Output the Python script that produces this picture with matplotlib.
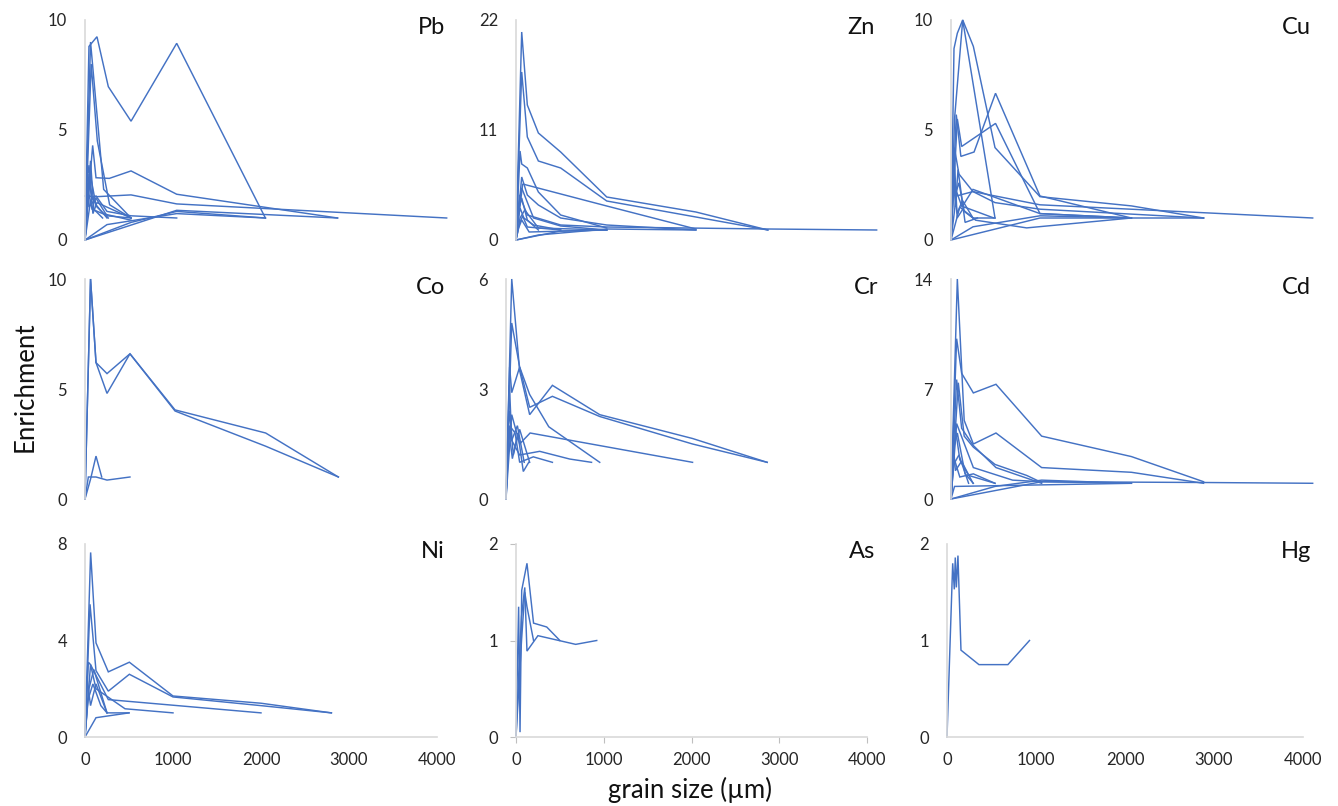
import matplotlib
matplotlib.use("Agg")
import matplotlib.pyplot as plt

plt.rcParams['font.family'] = ['Lato', 'DejaVu Sans']

# ---------------- data (grain size in µm, enrichment) ----------------
elements = ["Pb", "Zn", "Cu", "Co", "Cr", "Cd", "Ni", "As", "Hg"]
y_max = [10, 22, 10, 10, 6, 14, 8, 2, 2]
x_ticks = [0, 1000, 2000, 3000, 4000]

pb_x = [[0, 45, 136, 265, 523, 1042, 2050],
        [0, 63, 212, 523],
        [0, 70, 140, 280, 523],
        [0, 87, 125, 276, 523, 1042, 2870],
        [0, 136, 523, 1042, 4110],
        [0, 250, 1042, 2050],
        [0, 1042, 2870],
        [0, 523, 1042, 2050],
        [0, 20, 45, 76, 136, 265],
        [0, 30, 63, 125, 250],
        [0, 45, 90, 136, 523],
        [0, 63, 125, 250, 523, 1042],
        [0, 38, 80, 200, 523],
        [0, 20, 63, 100, 200],
        [0, 30, 45, 125, 250, 523]]
pb_y = [[0, 8.8, 9.24, 6.97, 5.4, 8.94, 1.0],
        [0, 9.0, 2.3, 1.0],
        [0, 8.0, 4.5, 1.6, 1.0],
        [0, 4.3, 2.83, 2.8, 3.14, 2.08, 1.0],
        [2.0, 1.97, 2.05, 1.64, 1.0],
        [0, 0.7, 1.2, 1.0],
        [0, 1.35, 1.0],
        [0, 0.8, 1.3, 1.0],
        [0, 2.5, 3.4, 2.0, 1.5, 1.0],
        [0, 1.8, 2.9, 1.6, 1.0],
        [0, 3.0, 1.2, 1.7, 1.0],
        [0, 1.8, 2.0, 1.3, 1.1, 1.0],
        [0, 2.2, 1.4, 1.2, 0.9],
        [0, 1.2, 3.6, 1.4, 1.0],
        [0, 2.6, 1.5, 1.9, 1.1, 1.0]]

zn_x = [[0, 65, 129, 255, 509, 1034, 2050, 2870],
        [0, 65, 129, 255, 509, 1034, 2050, 2870],
        [0, 46, 65, 129, 255, 509, 1034],
        [0, 76, 1034, 2050],
        [0, 65, 129, 255, 509, 1034, 2050],
        [0, 40, 129, 509, 1034, 2870, 4110],
        [0, 30, 65, 200, 509, 1034],
        [0, 20, 65, 129, 255],
        [0, 46, 100, 255, 1034],
        [0, 255, 1034, 2050],
        [0, 509, 1034],
        [0, 38, 76, 129, 509],
        [0, 20, 46, 90, 200, 509],
        [0, 30, 65, 150, 1034]]
zn_y = [[0, 20.8, 13.5, 10.7, 8.8, 4.3, 2.8, 1.0],
        [0, 16.8, 10.3, 7.9, 7.2, 3.9, 2.3, 1.0],
        [0, 8.9, 7.6, 7.2, 4.8, 2.5, 1.2],
        [0, 5.6, 3.4, 1.1],
        [0, 6.3, 4.5, 3.5, 2.2, 1.5, 1.0],
        [0, 4.5, 2.5, 1.5, 1.3, 1.1, 1.0],
        [0, 3.5, 5.2, 2.2, 1.4, 1.0],
        [0, 2.8, 4.2, 2.0, 1.0],
        [0, 2.2, 3.0, 1.2, 1.0],
        [0, 0.5, 1.1, 1.0],
        [0, 0.9, 1.0],
        [0, 1.6, 2.4, 1.3, 1.0],
        [0, 1.8, 3.2, 2.2, 1.5, 1.0],
        [0, 1.2, 2.0, 0.8, 1.0]]

cu_x = [[0, 34, 72, 133, 254, 500, 1011, 2050, 2870],
        [0, 40, 133, 500],
        [0, 60, 112, 262, 506, 1011, 2050],
        [0, 72, 121, 506, 1011, 2050],
        [0, 38, 90, 250, 500, 1011, 2870],
        [0, 20, 63, 125, 250, 1011, 2050],
        [0, 60, 250, 1011, 4110],
        [0, 100, 280, 860, 2050],
        [0, 250, 1011, 2050],
        [0, 1011, 2870],
        [0, 30, 70, 130, 250, 500],
        [0, 20, 45, 90, 150, 250],
        [0, 25, 50, 80, 160, 300],
        [0, 15, 40, 70, 150, 487]]
cu_y = [[0, 8.7, 9.4, 10.0, 8.8, 4.2, 1.97, 1.55, 1.0],
        [0, 5.5, 10.0, 1.0],
        [0, 5.7, 3.8, 4.0, 6.67, 2.0, 1.0],
        [0, 5.5, 4.25, 5.3, 1.2, 1.0],
        [0, 4.2, 3.0, 2.2, 1.7, 1.4, 1.0],
        [0, 3.0, 2.2, 1.5, 2.3, 1.2, 1.0],
        [0, 2.0, 2.2, 1.6, 1.0],
        [0, 1.5, 0.9, 0.55, 1.0],
        [0, 0.6, 1.1, 1.0],
        [0, 1.0, 1.0],
        [0, 2.5, 1.2, 1.8, 1.0, 1.0],
        [0, 3.5, 2.0, 2.6, 1.3, 1.0],
        [0, 4.0, 1.5, 3.2, 0.8, 1.0],
        [0, 2.0, 3.5, 1.0, 1.5, 1.0]]

co_x = [[0, 63, 125, 250, 511, 1023, 2053, 2879],
        [0, 63, 125, 250, 511, 1023, 2053, 2879],
        [0, 63, 125, 190],
        [0, 38, 125, 250, 511]]
co_y = [[0, 10.0, 6.2, 5.7, 6.6, 4.05, 3.0, 1.0],
        [0, 10.0, 6.2, 4.8, 6.6, 4.0, 2.4, 1.0],
        [0, 0.9, 1.95, 1.0],
        [0, 1.0, 1.0, 0.86, 1.0]]

cr_x = [[0, 63, 150, 260, 510, 1030, 2050, 2870],
        [0, 63, 150, 260, 510, 1030, 2050, 2870],
        [0, 40, 63, 150, 260, 470, 1030],
        [0, 63, 150, 265, 2050],
        [0, 38, 63, 150, 370, 700, 940],
        [0, 40, 100, 150, 300, 510],
        [0, 20, 63, 125, 200],
        [0, 15, 40, 80, 150, 260],
        [0, 25, 70, 130, 190, 250]]
cr_y = [[0, 6.0, 3.5, 2.3, 3.1, 2.3, 1.65, 1.0],
        [0, 4.8, 3.6, 2.5, 2.8, 2.25, 1.5, 1.0],
        [0, 3.6, 2.9, 3.6, 2.85, 1.97, 1.0],
        [0, 2.3, 1.5, 1.8, 1.0],
        [0, 3.1, 1.6, 1.2, 1.3, 1.09, 1.0],
        [0, 2.0, 1.8, 1.0, 1.15, 1.0],
        [0, 1.8, 1.6, 2.0, 1.0],
        [0, 1.5, 2.4, 1.2, 1.9, 1.0],
        [0, 2.0, 1.1, 1.8, 0.75, 1.0]]

cd_x = [[0, 64, 121, 254, 511, 1030, 2050, 2870],
        [0, 72, 150, 254, 511, 1030, 2050, 2870],
        [0, 64, 121, 254, 511, 1030],
        [0, 83, 150, 254, 500, 860, 1030],
        [0, 64, 254, 700, 1030, 2870, 4110],
        [0, 38, 100, 200, 500],
        [0, 20, 72, 160, 254],
        [0, 30, 90, 200],
        [0, 1030, 2050],
        [0, 500, 1030, 2050],
        [0, 40, 2050],
        [0, 25, 50, 120, 250],
        [0, 15, 40, 100, 254, 500]]
cd_y = [[0, 10.2, 8.0, 6.75, 7.3, 4.0, 2.7, 1.1],
        [0, 14.0, 5.0, 3.5, 4.2, 2.0, 1.7, 1.0],
        [0, 7.6, 4.5, 3.4, 2.0, 1.0],
        [0, 7.4, 4.0, 3.3, 2.2, 1.5, 1.05],
        [0, 4.8, 2.0, 1.2, 1.1, 1.05, 1.0],
        [0, 5.0, 2.5, 1.5, 1.0],
        [0, 3.0, 4.2, 1.6, 1.0],
        [0, 2.2, 2.8, 1.0],
        [0, 1.1, 1.0],
        [0, 0.8, 1.2, 1.0],
        [0, 0.8, 1.0],
        [0, 3.5, 1.8, 2.4, 1.0],
        [0, 1.5, 2.5, 1.4, 1.6, 1.0]]

ni_x = [[0, 64, 125, 265, 504, 1000, 2000, 2800],
        [0, 57, 125, 265, 504, 1000, 2000, 2800],
        [0, 38, 63, 265, 2000],
        [0, 63, 125, 455, 1000],
        [0, 20, 63, 125, 250, 500],
        [0, 45, 100, 250],
        [0, 30, 90, 180, 250],
        [0, 125, 500]]
ni_y = [[0, 7.65, 3.9, 2.7, 3.1, 1.7, 1.4, 1.0],
        [0, 5.5, 2.75, 1.9, 2.6, 1.66, 1.3, 1.0],
        [0, 3.1, 3.0, 1.55, 1.0],
        [0, 3.0, 2.0, 1.17, 1.0],
        [0, 2.5, 1.3, 2.2, 1.0, 1.0],
        [0, 2.0, 2.8, 1.0],
        [0, 1.5, 2.2, 1.3, 1.0],
        [0, 0.8, 1.0]]

as_x = [[0, 30, 46, 65, 125, 200, 350, 500],
        [0, 38, 63, 100, 125, 250, 680, 920],
        [0, 63, 100, 125, 200]]
as_y = [[0, 1.35, 0.05, 1.52, 1.8, 1.18, 1.14, 1.0],
        [0, 0.8, 1.25, 1.55, 0.89, 1.05, 0.96, 1.0],
        [0, 1.0, 1.5, 1.35, 1.0]]

hg_x = [[0, 64, 82, 93, 105, 123, 157, 359, 684, 927]]
hg_y = [[0, 1.8, 1.53, 1.86, 1.55, 1.88, 0.9, 0.75, 0.75, 1.0]]

series_x = [pb_x, zn_x, cu_x, co_x, cr_x, cd_x, ni_x, as_x, hg_x]
series_y = [pb_y, zn_y, cu_y, co_y, cr_y, cd_y, ni_y, as_y, hg_y]

# ---------------- layout (pixels) ----------------
W, H = 1338, 806
col_lr = [[(85, 437), (516, 867), (951, 1303)],
          [(85, 437), (506, 870), (951, 1303)],
          [(85, 437), (516, 867), (947, 1303)]]
row_tb = [(20, 240), (279, 499), (544, 737)]

LINE = "#4472C4"
AXIS = "#D9D9D9"

fig = plt.figure(figsize=(W / 100, H / 100), dpi=100)

for i, name in enumerate(elements):
    r, c = divmod(i, 3)
    l, rr = col_lr[r][c]
    t, b = row_tb[r]
    ax = fig.add_axes([l / W, 1 - b / H, (rr - l) / W, (b - t) / H])
    for xs, ys in zip(series_x[i], series_y[i]):
        ax.plot(xs, ys, color=LINE, lw=1.05, clip_on=False, solid_joinstyle='miter')
    ax.set_xlim(0, 4000)
    ax.set_ylim(0, y_max[i])
    ax.set_yticks([0, y_max[i] / 2, y_max[i]])
    ax.set_yticklabels(["0", f"{y_max[i] / 2:g}", f"{y_max[i]:g}"])
    for s in ["top", "right"]:
        ax.spines[s].set_visible(False)
    ax.spines["left"].set_color(AXIS)
    ax.spines["left"].set_linewidth(1.2)
    tick_len = 4 if name == "As" else 0
    ax.tick_params(axis="y", length=tick_len, color="#BFBFBF", pad=13 - tick_len,
                   labelsize=12, labelcolor="#262626")
    if r == 2:
        ax.spines["bottom"].set_color(AXIS)
        ax.spines["bottom"].set_linewidth(1.2)
        ax.set_xticks(x_ticks)
        ax.set_xticklabels([str(v) for v in x_ticks])
        ax.tick_params(axis="x", length=tick_len, color="#BFBFBF", pad=11 - tick_len,
                       labelsize=12, labelcolor="#262626")
    else:
        ax.spines["bottom"].set_visible(False)
        ax.set_xticks([])
    ax.patch.set_alpha(0)
    fig.text((rr + 8) / W, 1 - (t + 8) / H, name, ha="right", va="center",
             fontsize=17, color="#111111")

fig.text(25 / W, 1 - 387 / H, "Enrichment", rotation=90, ha="center", va="center",
         fontsize=18.5, color="#111111")
fig.text(690 / W, 1 - 790 / H, "grain size (µm)", ha="center", va="center",
         fontsize=18.5, color="#111111")

fig.savefig("out.png", dpi=100)
